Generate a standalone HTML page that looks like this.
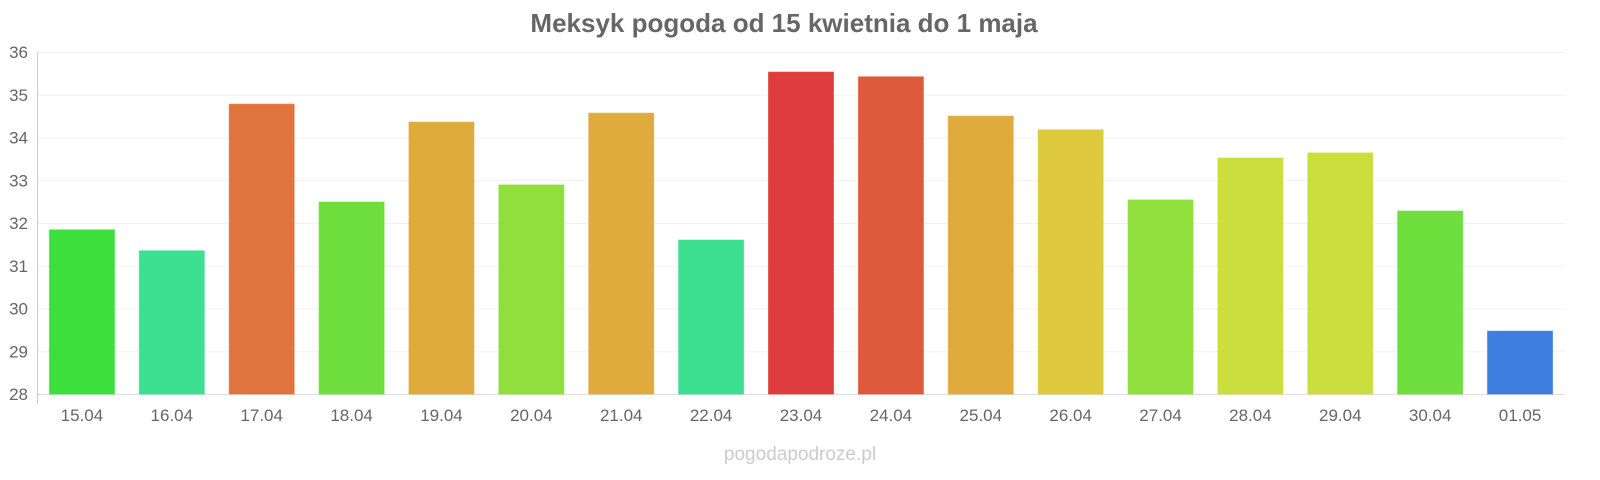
<!DOCTYPE html>
<html><head><meta charset="utf-8"><style>
html,body{margin:0;padding:0;background:#fff;}
svg{display:block;font-family:"Liberation Sans",sans-serif;}
</style></head><body>
<svg id="chart" width="1600" height="480">
<text x="784" y="32" text-anchor="middle" font-size="26" font-weight="bold" fill="#666">Meksyk pogoda od 15 kwietnia do 1 maja</text>
<text x="800" y="460" text-anchor="middle" font-size="19" fill="#ccc">pogodapodroze.pl</text>
<g id="grid"></g><g id="bars"></g><g id="xlabels"></g>
<line x1="37.5" y1="52" x2="37.5" y2="404" stroke="#ccc"/>
</svg>
<script>
const categories=["15.04","16.04","17.04","18.04","19.04","20.04","21.04","22.04","23.04","24.04","25.04","26.04","27.04","28.04","29.04","30.04","01.05"];
const values=[31.84,31.35,34.78,32.49,34.36,32.89,34.57,31.6,35.53,35.42,34.5,34.18,32.54,33.52,33.64,32.28,29.47];
const colors=["#33dd33","#33dd8b","#dd6e33","#66dd33","#dda633","#8bdd33","#dda633","#33dd8b","#dd3333","#dd5033","#dda633","#ddc733","#8bdd33","#c7dd33","#c7dd33","#66dd33","#3377dd"];
const yTicks=[28,29,30,31,32,33,34,35,36];
const NS="http://www.w3.org/2000/svg";
const x0=37,x1=1565,yMin=28,yMax=36,py0=394,py1=52;
const y=v=>py0-(v-yMin)/(yMax-yMin)*(py0-py1);
const step=(x1-x0)/categories.length;
const xc=i=>x0+step*(i+0.5);
const g=document.getElementById('grid'),b=document.getElementById('bars'),xl=document.getElementById('xlabels');
yTicks.forEach(t=>{
 const l=document.createElementNS(NS,'line');
 l.setAttribute('x1',x0);l.setAttribute('x2',x1);l.setAttribute('y1',y(t)+0.5);l.setAttribute('y2',y(t)+0.5);
 l.setAttribute('stroke',t===28?'#ddd':'#f2f2f2');
 
 
 g.appendChild(l);
 const tx=document.createElementNS(NS,'text');
 tx.setAttribute('x',28);tx.setAttribute('y',y(t)+6);tx.setAttribute('text-anchor','end');
 tx.setAttribute('font-size','17');tx.setAttribute('fill','#666');tx.textContent=t;
 
 
 g.appendChild(tx);
});
categories.forEach((c,i)=>{
 const r=document.createElementNS(NS,'rect');
 const w=65;
 r.setAttribute('x',xc(i)-w/2);r.setAttribute('width',w);
 r.setAttribute('y',y(values[i]));r.setAttribute('height',py0-y(values[i]));
 r.setAttribute('fill',colors[i]);r.setAttribute('fill-opacity','0.95');
 r.setAttribute('stroke',colors[i]);r.setAttribute('stroke-opacity','0.6');
 
 
 b.appendChild(r);
 const t=document.createElementNS(NS,'text');
 t.setAttribute('x',xc(i));t.setAttribute('y',421);t.setAttribute('text-anchor','middle');
 t.setAttribute('font-size','17');t.setAttribute('fill','#666');t.textContent=c;
 
 
 xl.appendChild(t);
});
</script>
</body></html>
